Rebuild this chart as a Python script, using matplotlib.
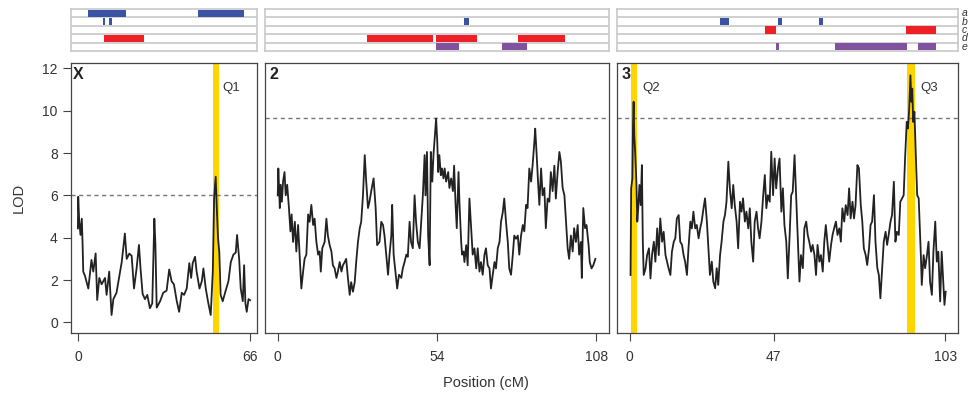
import matplotlib
matplotlib.use("Agg")
import matplotlib.pyplot as plt
from matplotlib.patches import Rectangle

plt.rcParams['font.family'] = ['Liberation Sans', 'DejaVu Sans']

# ---------------- data ----------------
chrom_names = ["X", "2", "3"]
chrom_len = [66, 108, 103]
chrom_ticks = [[0, 66], [0, 54, 108], [0, 47, 103]]
thresholds = [6.0, 9.63, 9.63]

posX = [0.0, 0.13, 0.5, 1.0, 1.5, 1.8, 2.05, 2.7, 4.0, 5.2, 5.9, 6.8, 7.4, 8.2, 9.1, 10.4, 11.0,
        12.0, 12.9, 13.6, 14.8, 15.9, 16.8, 18.0, 18.7, 19.7, 20.6, 21.5, 22.5, 23.4, 24.0, 24.8,
        25.7, 26.6, 27.6, 28.5, 29.3, 29.7, 30.2, 31.5, 32.7, 34.0, 35.0, 35.9, 36.8, 37.9, 38.8,
        39.8, 40.7, 41.7, 42.7, 43.4, 44.0, 44.9, 45.5, 46.6, 47.5, 48.1, 49.0, 50.0, 50.9, 51.7,
        52.2, 52.8, 53.2, 53.7, 54.2, 54.7, 55.5, 56.4, 57.7, 58.6, 59.6, 60.5, 61.0, 61.8, 62.4,
        63.2, 63.7, 64.2, 64.7, 65.4, 66.0]
lodX = [4.44, 5.93, 4.8, 4.13, 4.9, 3.7, 2.4, 2.2, 1.6, 2.95, 2.4, 3.26, 1.06, 2.1, 1.8, 2.1, 1.3,
        2.4, 0.35, 1.1, 1.4, 2.2, 2.85, 4.2, 3.0, 3.25, 3.15, 1.6, 2.55, 3.66, 2.55, 1.35,
        1.1, 1.3, 0.67, 0.9, 4.9, 3.7, 0.7, 1.0, 1.4, 1.5, 2.5, 1.95, 1.8, 1.0, 0.5,
        1.4, 1.3, 1.6, 2.8, 2.1, 2.8, 3.1, 2.4, 1.6, 1.95, 2.55, 1.6, 0.9, 0.35, 2.4,
        5.85, 6.88, 5.5, 4.0, 3.3, 1.3, 1.0, 1.4, 1.95, 2.85, 3.2, 3.3, 4.13, 3.0, 1.6,
        1.0, 2.7, 0.9, 0.5, 1.1, 1.05]

pos2 = [0.0, 0.2, 0.7, 1.0, 1.4, 1.8, 2.3, 2.7, 3.2, 3.8, 4.3, 4.7, 5.2, 5.8, 6.3, 6.9, 7.4, 8.0,
        8.6, 9.1, 9.7, 10.3, 10.8, 11.4, 12.0, 12.5, 13.1, 13.7, 14.2, 14.6, 15.1, 15.9, 16.5,
        17.0, 17.6, 18.2, 18.7, 19.3, 19.9, 20.4, 21.0, 21.6, 22.1, 22.7, 23.2, 23.8, 24.4,
        24.9, 25.5, 26.1, 26.6, 27.2, 27.8, 28.3, 28.9, 29.5, 30.0, 30.6, 31.1, 31.7, 32.5,
        33.2, 33.7, 34.5, 35.1, 35.7, 36.2, 36.8, 37.4, 37.9, 38.5, 38.8, 39.3, 39.8, 40.5,
        41.1, 41.9, 42.4, 43.0, 43.6, 44.1, 44.7, 45.2, 45.8, 46.4, 46.9, 47.5, 48.1, 48.6,
        49.2, 49.8, 50.1, 50.6, 51.0, 51.5, 51.9, 52.4, 52.8, 53.3, 53.7, 54.1, 54.4, 54.8,
        55.3, 55.7, 56.2, 56.6, 57.1, 57.8, 58.2, 58.8, 59.4, 59.8, 60.3, 60.7, 61.3, 61.6,
        62.2, 62.5, 63.0, 63.3, 63.9, 64.4, 65.0, 65.6, 66.1, 66.7, 67.3, 67.8, 68.4, 68.9,
        69.5, 70.1, 70.6, 71.2, 71.8, 72.3, 72.9, 73.5, 74.0, 74.6, 75.2, 75.7, 76.3, 76.8,
        77.4, 78.0, 78.5, 79.1, 79.7, 80.2, 80.8, 81.4, 81.9, 82.5, 83.1, 83.6, 84.2, 84.7,
        85.3, 85.9, 86.4, 87.0, 87.3, 87.8, 88.2, 88.7, 89.3, 89.8, 90.4, 90.9, 91.5, 92.1,
        92.6, 93.2, 93.8, 94.3, 94.9, 95.5, 96.0, 96.6, 97.2, 97.7, 98.3, 98.8, 99.4, 100.0,
        100.5, 101.1, 101.7, 102.2, 102.8, 103.1, 103.6, 104.2, 104.7, 105.4, 105.8, 106.4,
        107.0, 107.7]
lod2 = [6.0, 7.27, 5.4, 6.5, 5.7, 6.65, 7.1, 6.0, 6.5, 5.4, 4.3, 5.1, 3.8, 4.75, 3.35, 4.6, 3.2, 1.6,
        2.4, 3.0, 3.2, 5.1, 4.75, 5.55, 4.6, 4.9, 3.8, 3.2, 3.35, 2.4, 3.5, 3.8, 4.9,
        4.1, 3.65, 3.35, 2.7, 2.55, 2.1, 2.4, 2.85, 2.4, 2.7, 2.85, 3.0, 2.1, 1.3,
        1.9, 1.45, 1.9, 2.85, 3.8, 4.45, 4.75, 6.0, 7.9, 6.65, 5.4, 5.7, 6.2, 6.8,
        5.4, 3.65, 3.8, 4.75, 4.6, 4.1, 3.2, 2.25, 3.2, 4.1, 5.55, 3.2, 2.55, 1.6,
        2.25, 2.1, 2.55, 2.85, 3.2, 3.1, 4.75, 3.8, 3.5, 6.0, 4.75, 3.8, 3.5, 4.6,
        6.0, 7.9, 6.0, 8.05, 4.1, 2.7, 8.05, 6.65, 7.9, 8.85, 9.63, 8.5, 7.1, 7.9,
        6.95, 7.27, 6.8, 7.27, 6.65, 7.1, 6.35, 6.8, 6.2, 7.4, 5.55, 4.45, 7.1, 5.7,
        3.8, 3.2, 3.35, 2.85, 3.65, 2.7, 5.85, 4.45, 3.2, 3.5, 2.55, 3.5, 2.4, 2.85,
        2.25, 3.2, 3.5, 2.7, 2.55, 1.6, 2.25, 2.85, 2.55, 3.5, 3.8, 4.75, 5.2, 5.85,
        4.75, 3.8, 2.55, 2.25, 3.2, 4.1, 3.95, 4.1, 3.2, 4.1, 4.6, 4.3, 5.55, 5.4,
        7.27, 6.65, 7.4, 8.5, 9.15, 7.9, 6.8, 5.55, 7.27, 6.0, 6.35, 4.45, 5.85, 5.7,
        7.1, 6.2, 7.4, 5.85, 7.1, 8.05, 7.6, 6.35, 6.0, 4.9, 3.5, 3.0, 4.1, 3.35,
        4.45, 3.8, 4.6, 3.2, 3.8, 2.1, 5.4, 4.45, 4.6, 3.65, 2.85, 2.55,
        2.7, 3.0]

pos3 = [0.3, 0.5, 0.9, 1.1, 1.3, 1.5, 1.8, 2.2, 2.5, 2.8, 3.2, 3.6, 4.0, 4.3, 4.6, 5.2, 5.7, 6.3,
        6.8, 7.3, 7.9, 8.4, 9.0, 9.5, 10.0, 10.6, 11.1, 11.7, 12.2, 12.7, 13.3, 13.8, 14.4,
        14.9, 15.4, 16.0, 16.5, 17.1, 17.6, 18.1, 18.7, 19.2, 19.8, 20.3, 20.8, 21.4, 21.9,
        22.5, 23.0, 23.5, 24.1, 24.6, 25.2, 25.7, 26.2, 26.8, 27.3, 27.9, 28.4, 28.9, 29.5,
        30.0, 30.6, 31.1, 31.6, 32.2, 32.7, 33.3, 33.8, 34.3, 34.9, 35.4, 36.0, 36.5, 37.0,
        37.6, 38.1, 38.7, 39.2, 39.7, 40.3, 40.8, 41.4, 41.9, 42.4, 43.0, 43.5, 44.1, 44.6,
        45.1, 45.7, 46.2, 46.8, 47.3, 47.8, 48.4, 48.9, 49.5, 50.0, 50.5, 51.1, 51.6, 52.2,
        52.7, 53.2, 53.8, 54.3, 54.9, 55.4, 55.9, 56.5, 57.0, 57.6, 58.1, 58.6, 59.2, 59.7,
        60.3, 60.8, 61.3, 61.9, 62.4, 63.0, 63.5, 64.0, 64.6, 65.1, 65.7, 66.2, 66.7, 67.3,
        67.8, 68.4, 68.9, 69.4, 70.0, 70.5, 71.1, 71.6, 72.1, 72.7, 73.2, 73.7, 74.3, 74.8,
        75.4, 75.9, 76.4, 77.0, 77.5, 78.1, 78.6, 79.1, 79.7, 80.2, 80.8, 81.3, 81.8, 82.4,
        82.9, 83.5, 84.0, 84.5, 85.1, 85.6, 86.2, 86.7, 87.2, 87.8, 88.3, 88.9, 89.4, 89.9,
        90.4, 90.8, 91.2, 91.6, 91.9, 92.2, 92.5, 92.9, 93.2, 93.5, 93.8, 94.3, 94.6, 95.0,
        95.3, 95.9, 96.4, 97.0, 97.5, 98.0, 98.6, 99.1, 99.7, 100.2, 100.7, 101.3, 101.8,
        102.4, 102.7, 103.1]
lod3 = [2.24, 6.33, 6.8, 9.32, 10.42, 8.84, 8.06, 6.64, 4.76, 5.39, 6.49, 5.54, 7.43, 3.81, 2.24,
        2.56, 3.18, 3.5, 2.08, 3.18, 3.81, 2.87, 4.44, 3.18, 4.91, 3.81, 4.28, 3.18, 2.87, 2.56,
        2.24, 3.34, 3.81, 3.97, 4.91, 5.07, 3.81, 3.66, 3.18, 2.87, 2.24, 3.5, 4.76, 4.44, 5.23,
        4.44, 4.6, 3.97, 4.44, 4.76, 5.39, 5.86, 4.76, 3.5, 2.24, 2.87, 1.93, 1.61, 2.56, 1.77,
        3.18, 3.81, 4.76, 5.07, 5.7, 7.59, 6.33, 5.39, 6.49, 5.54, 4.76, 3.5, 5.7, 5.23, 5.86,
        4.76, 5.23, 4.44, 5.39, 3.81, 2.87, 4.76, 5.23, 4.44, 3.97, 4.76, 5.86, 6.96, 5.39,
        6.01, 5.7, 8.06, 6.01, 7.74, 6.33, 7.28, 7.74, 5.23, 6.33, 4.6, 3.81, 2.08, 4.13, 6.01,
        6.17, 7.9, 6.01, 3.81, 1.93, 3.18, 2.56, 4.44, 4.76, 4.13, 3.81, 3.34, 3.66, 3.18,
        2.24, 3.66, 2.87, 3.18, 2.4, 3.81, 4.6, 3.66, 2.87, 3.66, 4.13, 4.44, 4.76, 4.13,
        4.44, 3.81, 5.39, 4.76, 5.54, 5.07, 6.33, 4.91, 5.7, 4.91, 5.54, 7.43, 7.28, 5.54,
        4.76, 3.5, 3.18, 2.71, 3.5, 4.6, 4.76, 6.01, 3.81, 2.56, 2.24, 1.14, 2.56, 3.81,
        4.28, 3.66, 4.13, 4.76, 5.07, 6.64, 3.81, 4.28, 4.13, 5.7, 5.86, 6.01, 7.9, 9.47,
        9.16, 10.1, 11.67, 10.42, 11.04, 9.47, 9.95, 8.53, 7.27, 6.01, 5.86, 4.76, 3.18,
        1.77, 3.18, 2.56, 3.18, 3.81, 1.93, 1.3, 3.34, 4.76, 2.87, 3.34, 0.99, 3.34,
        1.61, 0.83, 1.45]

positions = [posX, pos2, pos3]
lods = [lodX, lod2, lod3]

# QTL intervals (cM) and labels
qtl_bands = [[(51.8, 54.1)], [], [(0.55, 2.3), (90.4, 93.2)]]
qtl_labels = [[("Q1", 58.7)], [], [("Q2", 7.1), ("Q3", 97.8)]]

# annotation tracks
track_rows = ["a", "b", "c", "d", "e"]
row_colors = {"a": "#3A53A4", "b": "#3A53A4", "c": "#EE2027", "d": "#EE2027", "e": "#8152A0"}
tracks = [
    [("a", 3.8, 18.4), ("a", 46.0, 63.7), ("b", 9.6, 10.2), ("b", 11.9, 12.9), ("d", 10.0, 25.3)],
    [("b", 63.0, 65.0), ("d", 30.1, 52.8), ("d", 53.8, 67.7), ("d", 81.6, 97.5),
     ("e", 53.5, 61.6), ("e", 76.2, 84.6)],
    [("b", 29.5, 32.4), ("b", 48.3, 49.6), ("b", 61.9, 63.2), ("c", 44.1, 47.9), ("c", 90.0, 99.8),
     ("e", 47.9, 48.6), ("e", 67.0, 90.4), ("e", 94.0, 99.8)],
]

# ---------------- layout ----------------
W, H = 971, 394
fig = plt.figure(figsize=(W / 100, H / 100), dpi=100)

panel_px = [(71, 257), (265, 609), (617, 958)]
plot_top, plot_bot = 63, 333
trk_top, trk_bot = 9, 51

frame_col = "#444444"
grid_col = "#c8c8c8"

for i, name in enumerate(chrom_names):
    l, r = panel_px[i]
    L = chrom_len[i]
    xlim = (-0.04 * L, 1.04 * L)

    ax = fig.add_axes([l / W, 1 - plot_bot / H, (r - l) / W, (plot_bot - plot_top) / H])
    ax.set_xlim(*xlim)
    ax.set_ylim(-0.5, 12.25)
    for (a, b) in qtl_bands[i]:
        ax.axvspan(a, b, color="#FFD500", lw=0, zorder=1)
    ax.axhline(thresholds[i], color="#777777", lw=1.0, ls=(0, (3, 2.5)), zorder=2)
    ax.plot(positions[i], lods[i], color="#222222", lw=1.3, zorder=3)
    for (txt, xp) in qtl_labels[i]:
        ax.text(xp, 11.05, txt, fontsize=9.5, color="#333333", ha="center", va="center", zorder=4)
    ax.text(0.012, 0.985, name, transform=ax.transAxes, fontsize=11.5, fontweight="bold",
            ha="left", va="top", color="#222222")
    ax.set_xticks(chrom_ticks[i])
    ax.set_xticklabels([str(t) for t in chrom_ticks[i]])
    ax.tick_params(axis="x", direction="out", length=6, width=0.8, color=frame_col,
                   labelsize=10, pad=6, labelcolor="#333333")
    if i == 0:
        ax.set_yticks(range(0, 13, 2))
        ax.tick_params(axis="y", direction="out", length=6, width=0.8, color=frame_col,
                       labelsize=10, labelcolor="#333333")
        ax.set_ylabel("LOD", fontsize=10.5, color="#333333", labelpad=12)
    else:
        ax.set_yticks([])
    for s in ax.spines.values():
        s.set_color(frame_col)
        s.set_linewidth(0.9)

    # track axes
    tax = fig.add_axes([l / W, 1 - trk_bot / H, (r - l) / W, (trk_bot - trk_top) / H])
    tax.set_xlim(*xlim)
    tax.set_ylim(0, len(track_rows))
    tax.set_xticks([])
    tax.set_yticks([])
    for s in tax.spines.values():
        s.set_color(grid_col)
        s.set_linewidth(1.2)
    for k in range(1, len(track_rows)):
        tax.axhline(k, color=grid_col, lw=1.2, zorder=1)
    for (row, a, b) in tracks[i]:
        y0 = len(track_rows) - 1 - track_rows.index(row)
        tax.add_patch(Rectangle((a, y0 + 0.06), b - a, 0.88, facecolor=row_colors[row],
                                edgecolor="none", zorder=2))

# row letters on the right
for k, row in enumerate(track_rows):
    yc = trk_top + (k + 0.5) * (trk_bot - trk_top) / len(track_rows)
    fig.text(962 / W, 1 - yc / H, row, fontsize=7.5, style="italic", color="#333333",
             ha="left", va="center")

fig.text(486 / W, 1 - 383 / H, "Position (cM)", fontsize=10.5, color="#333333",
         ha="center", va="center")

fig.savefig("out.png", dpi=100)
